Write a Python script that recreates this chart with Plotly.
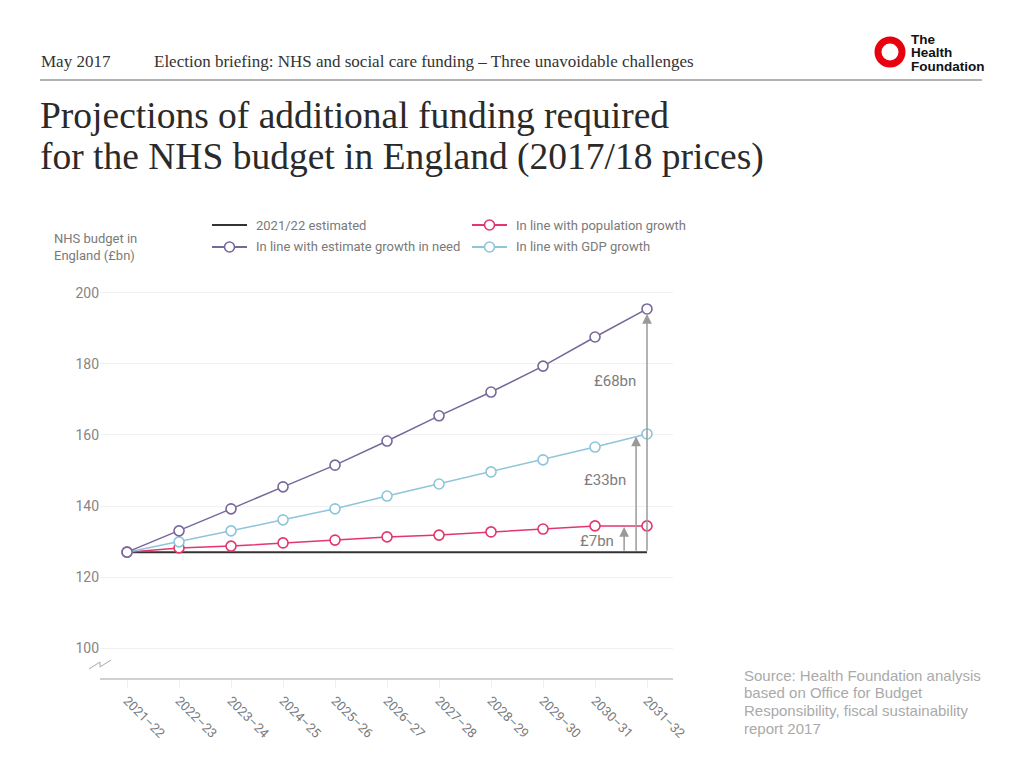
import plotly.graph_objects as go

# ---------------- data ----------------
years = ["2021\u201322", "2022\u201323", "2023\u201324", "2024\u201325", "2025\u201326", "2026\u201327",
         "2027\u201328", "2028\u201329", "2029\u201330", "2030\u201331", "2031\u201332"]
baseline = [127.0] * 11
need_growth = [127.0, 133.0, 139.2, 145.4, 151.5, 158.3, 165.4, 172.1, 179.4, 187.6, 195.5]
gdp_growth = [127.0, 129.9, 133.0, 136.1, 139.2, 142.8, 146.2, 149.6, 153.0, 156.6, 160.3]
pop_growth = [127.0, 128.2, 128.7, 129.6, 130.4, 131.3, 131.8, 132.7, 133.5, 134.4, 134.4]
gap_labels = ["\u00a37bn", "\u00a333bn", "\u00a368bn"]
gap_tops = [134.1, 159.6, 195.5]
y_ticks = [100, 120, 140, 160, 180, 200]
source_lines = ["Source: Health Foundation analysis", "based on Office for Budget",
                "Responsibility, fiscal sustainability", "report 2017"]

PURPLE = "#77679b"
PINK = "#e2366c"
BLUE = "#8ec5da"
BLACK = "#333333"
GREY = "#9a9a9a"
TXT = "#7a7a7a"

OFF = 8  # page body margin
W, H = 1024, 768
L, R, T, B = 100 - OFF, 673 - OFF, 285 - OFF, 678 - OFF  # plot area in figure pixels


def px(x):
    return (x - OFF - L) / (R - L)


def py(y):
    return (B - (y - OFF)) / (B - T)


xi = list(range(len(years)))

fig = go.Figure()
fig.add_trace(go.Scatter(x=xi, y=baseline, mode="lines", line=dict(color=BLACK, width=2),
                         name="2021/22 estimated", hoverinfo="skip"))
for vals, col, name in [(pop_growth, PINK, "In line with population growth"),
                        (gdp_growth, BLUE, "In line with GDP growth"),
                        (need_growth, PURPLE, "In line with estimate growth in need")]:
    fig.add_trace(go.Scatter(x=xi, y=vals, mode="lines+markers", name=name,
                             line=dict(color=col, width=1.5),
                             marker=dict(size=10, color="white", line=dict(color=col, width=1.6))))

annotations = []
shapes = []

# gap arrows
arrow_x = [9.56, 9.79, 10.0]
label_pos = [(9.04, 130.1), (9.19, 147.3), (9.38, 175.2)]
standoffs = [0, 0, 5]
for lab, top, ax_, (lx, ly), so in zip(gap_labels, gap_tops, arrow_x, label_pos, standoffs):
    annotations.append(dict(x=ax_, y=top, ax=ax_, ay=baseline[-1], xref="x", yref="y",
                            axref="x", ayref="y", showarrow=True, arrowhead=2, arrowsize=1.3,
                            arrowwidth=1.5, arrowcolor=GREY, standoff=so, text=""))
    annotations.append(dict(x=lx, y=ly, xref="x", yref="y", text=lab, showarrow=False,
                            font=dict(family="Roboto, Liberation Sans", size=15, color="#7d7d7d")))

# header
annotations += [
    dict(x=px(39), y=py(61), xref="paper", yref="paper", xanchor="left", yanchor="middle",
         text="May 2017", showarrow=False,
         font=dict(family="Liberation Serif", size=17, color="#333")),
    dict(x=px(152), y=py(61), xref="paper", yref="paper", xanchor="left", yanchor="middle",
         text="Election briefing: NHS and social care funding \u2013 Three unavoidable challenges",
         showarrow=False, font=dict(family="Liberation Serif", size=17, color="#333")),
    dict(x=px(38), y=py(115), xref="paper", yref="paper", xanchor="left", yanchor="middle",
         text="Projections of additional funding required", showarrow=False,
         font=dict(family="Liberation Serif", size=37.5, color="#2a2a2a")),
    dict(x=px(38), y=py(157), xref="paper", yref="paper", xanchor="left", yanchor="middle",
         text="for the NHS budget in England (2017/18 prices)", showarrow=False,
         font=dict(family="Liberation Serif", size=37.5, color="#2a2a2a")),
]
for i, t in enumerate(["The", "Health", "Foundation"]):
    annotations.append(dict(x=px(909), y=py(39 + 13.5 * i), xref="paper", yref="paper",
                            xanchor="left", yanchor="middle", text="<b>%s</b>" % t, showarrow=False,
                            font=dict(family="Liberation Sans", size=13.5, color="#111")))
shapes.append(dict(type="circle", xref="paper", yref="paper", x0=px(878), x1=px(902),
                   y0=py(40), y1=py(64), line=dict(color="#e8000f", width=7)))
shapes.append(dict(type="line", xref="paper", yref="paper", x0=px(40), x1=px(982),
                   y0=py(80), y1=py(80), line=dict(color="#666", width=1)))

# y-axis title
annotations.append(dict(x=px(52), y=py(247), xref="paper", yref="paper", xanchor="left",
                        yanchor="middle", text="NHS budget in<br>England (\u00a3bn)", align="left",
                        showarrow=False,
                        font=dict(family="Roboto, Liberation Sans", size=13, color=TXT)))

# custom legend
legend_items = [("2021/22 estimated", BLACK, False, 212, 225),
                ("In line with estimate growth in need", PURPLE, True, 212, 247),
                ("In line with population growth", PINK, True, 472, 225),
                ("In line with GDP growth", BLUE, True, 472, 247)]
for name, col, mk, x0, y0 in legend_items:
    shapes.append(dict(type="line", xref="paper", yref="paper", x0=px(x0), x1=px(x0 + 35),
                       y0=py(y0), y1=py(y0), line=dict(color=col, width=1.8)))
    if mk:
        shapes.append(dict(type="circle", xref="paper", yref="paper", x0=px(x0 + 12.5),
                           x1=px(x0 + 22.5), y0=py(y0 - 5), y1=py(y0 + 5),
                           fillcolor="white", line=dict(color=col, width=1.6)))
    annotations.append(dict(x=px(x0 + 42), y=py(y0), xref="paper", yref="paper",
                            xanchor="left", yanchor="middle", text=name, showarrow=False,
                            font=dict(family="Roboto, Liberation Sans", size=13, color=TXT)))

# axis break mark
shapes.append(dict(type="path", xref="paper", yref="paper",
                   path="M %f,%f L %f,%f L %f,%f L %f,%f" % (px(89), py(669), px(100), py(662),
                                                            px(100), py(667), px(111), py(660)),
                   line=dict(color="#aaa", width=1)))

# source
for i, line in enumerate(source_lines):
    annotations.append(dict(x=px(742), y=py(675 + 17.8 * i), xref="paper", yref="paper",
                            xanchor="left", yanchor="middle", align="left", showarrow=False,
                            text=line,
                            font=dict(family="Liberation Sans", size=15, color="#aaaaaa")))

fig.update_layout(
    width=W, height=H, margin=dict(l=L, r=W - R, t=T, b=H - B),
    paper_bgcolor="white", plot_bgcolor="white", showlegend=False,
    annotations=annotations, shapes=shapes,
    xaxis=dict(range=[-0.52, 10.5], tickmode="array", tickvals=xi, ticktext=years,
               tickangle=45, showgrid=False, zeroline=False, showline=True,
               linecolor="#d0d0d0", linewidth=2, ticks="outside", ticklen=8,
               tickcolor="#f0f0f0", tickfont=dict(family="Roboto, Liberation Sans", size=13,
                                                  color=TXT)),
    yaxis=dict(range=[91.55, 202.25], tickvals=y_ticks, showgrid=True, gridcolor="#f0f0f0",
               gridwidth=1, zeroline=False, showline=False, ticks="",
               tickfont=dict(family="Roboto, Liberation Sans", size=14, color="#858585")),
)

fig.write_html("out.html")
